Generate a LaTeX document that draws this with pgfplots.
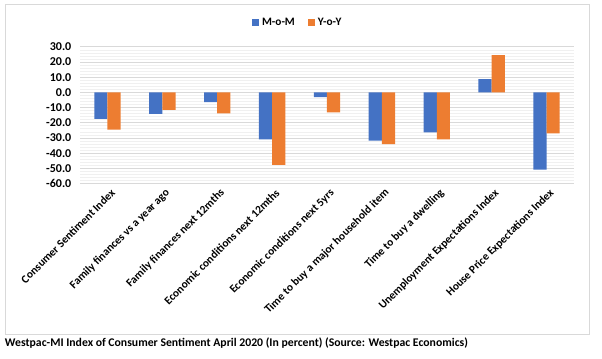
\documentclass[border=0pt]{standalone}
\usepackage{pgfplots}
\pgfplotsset{compat=1.18}
\usepackage{fontspec}
\setmainfont{Carlito}
\definecolor{cblue}{HTML}{4472C4}
\definecolor{corange}{HTML}{ED7D31}
\definecolor{gridmaj}{HTML}{D9D9D9}
\definecolor{gridmin}{HTML}{F0F0F0}
\begin{document}
\begin{tikzpicture}
\path[use as bounding box] (0,0) rectangle (451.5pt,-268.5pt);
\draw[color=gridmaj, line width=0.6pt] (3.75pt,-3pt) rectangle (441.75pt,-250.5pt);
\begin{axis}[
  at={(60pt,-137.6pt)}, anchor=south west,
  scale only axis,
  width=370.5pt, height=102.5pt,
  xmin=-0.5, xmax=8.5,
  ymin=-60, ymax=30,
  ytick={-60,-50,...,30},
  minor y tick num=4,
  axis line style={draw=none},
  tick style={draw=none},
  major grid style={gridmaj, line width=0.6pt},
  minor grid style={gridmin, line width=0.5pt},
  ymajorgrids, yminorgrids,
  xtick={0,...,8},
  xticklabels={Consumer Sentiment Index, Family finances vs a year ago, Family finances next 12mths, Economic conditions next 12mths, Economic conditions next 5yrs, Time to buy a major household item, Time to buy a dwelling, Unemployment Expectations Index, House Price Expectations Index},
  xticklabel style={rotate=45, anchor=east, font=\fontsize{8.5pt}{9pt}\selectfont\bfseries, inner sep=1pt, xshift=3pt, yshift=-4pt},
  yticklabel style={font=\fontsize{9pt}{10pt}\selectfont\bfseries, xshift=-3pt},
  /pgf/number format/assume math mode=true,
  /pgf/number format/.cd, fixed, fixed zerofill, precision=1, /pgfplots/.cd,
  ybar, bar width=0.24,
  legend columns=2,
  legend style={at={(0.442,1.178)}, anchor=center, draw=none, fill=none,
    font=\fontsize{8.5pt}{9pt}\selectfont\bfseries,
    /tikz/every even column/.append style={column sep=8pt}},
  legend image code/.code={\fill[#1] (0pt,-2.6pt) rectangle (5.2pt,2.6pt);},
  clip=false,
]
\addplot[fill=cblue, draw=none, bar shift=-0.12] coordinates {
(0,-17.5) (1,-14.2) (2,-6.5) (3,-31.0) (4,-3.2) (5,-31.7) (6,-26.4) (7,8.7) (8,-50.9)};
\addplot[fill=corange, draw=none, bar shift=0.12] coordinates {
(0,-24.6) (1,-11.6) (2,-13.8) (3,-47.8) (4,-13.1) (5,-34.1) (6,-31.0) (7,24.6) (8,-27.0)};
\legend{M-o-M, Y-o-Y}
\end{axis}
\node[anchor=west, font=\fontsize{8.8pt}{9pt}\selectfont\bfseries, inner sep=0pt] at (3.5pt,-257.5pt) {Westpac-MI Index of Consumer Sentiment April 2020 (In percent) (Source: Westpac Economics)};
\end{tikzpicture}
\end{document}
